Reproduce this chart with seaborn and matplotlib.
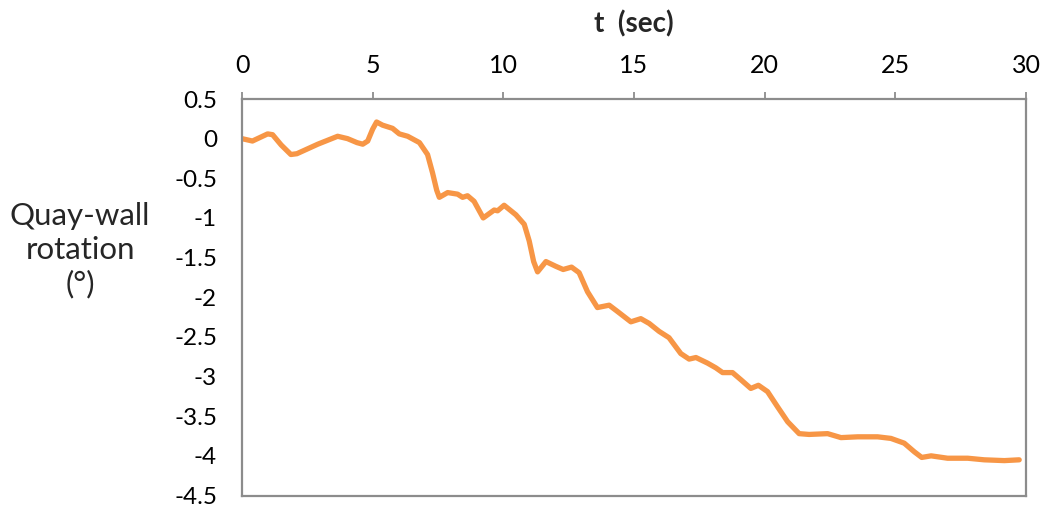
import matplotlib
matplotlib.use("Agg")
import matplotlib.pyplot as plt
import seaborn as sns
import pandas as pd

t_sec = [0.0, 0.4, 0.98, 1.17, 1.5, 1.87, 2.1, 2.9, 3.66, 4.04, 4.4, 4.62, 4.81, 5.0, 5.15,
         5.38, 5.76, 6.02, 6.34, 6.79, 7.1, 7.29, 7.45, 7.55, 7.87, 8.25, 8.44, 8.63, 8.88,
         9.23, 9.65, 9.78, 10.03, 10.48, 10.8, 10.99, 11.16, 11.31, 11.63, 12.01, 12.29,
         12.61, 12.9, 13.22, 13.6, 14.05, 14.37, 14.88, 15.26, 15.58, 15.96, 16.34, 16.79,
         17.11, 17.37, 17.81, 18.13, 18.39, 18.77, 19.09, 19.47, 19.76, 20.11, 20.49, 20.88,
         21.32, 21.7, 22.41, 22.92, 23.56, 24.32, 24.83, 25.34, 25.73, 26.01, 26.37, 27.0,
         27.77, 28.4, 29.17, 29.74]
rotation_deg = [0.0, -0.03, 0.06, 0.05, -0.08, -0.2, -0.19, -0.07, 0.03, 0.0, -0.05, -0.07,
                -0.03, 0.12, 0.21, 0.17, 0.13, 0.06, 0.03, -0.05, -0.2, -0.43, -0.65, -0.74,
                -0.68, -0.70, -0.74, -0.72, -0.79, -1.0, -0.90, -0.91, -0.84, -0.96, -1.08,
                -1.29, -1.55, -1.68, -1.55, -1.61, -1.65, -1.62, -1.69, -1.93, -2.13, -2.10,
                -2.18, -2.31, -2.27, -2.33, -2.43, -2.51, -2.71, -2.78, -2.76, -2.83, -2.89,
                -2.95, -2.95, -3.04, -3.15, -3.11, -3.19, -3.38, -3.57, -3.72, -3.73, -3.72,
                -3.77, -3.76, -3.76, -3.78, -3.84, -3.95, -4.02, -4.0, -4.03, -4.03, -4.05,
                -4.06, -4.05]

x_ticks = [0, 5, 10, 15, 20, 25, 30]
y_ticks = [0.5, 0, -0.5, -1, -1.5, -2, -2.5, -3, -3.5, -4, -4.5]
y_tick_labels = ["0.5", "0", "-0.5", "-1", "-1.5", "-2", "-2.5", "-3", "-3.5", "-4", "-4.5"]

sns.set_style("white")
plt.rcParams['font.family'] = ['Lato', 'DejaVu Sans']

df = pd.DataFrame({"t": t_sec, "rot": rotation_deg})

fig = plt.figure(figsize=(10.47, 5.12), dpi=100)
ax = fig.add_axes([242 / 1047, 1 - 495.5 / 512, (1026 - 242) / 1047, (495.5 - 99) / 512])

sns.lineplot(data=df, x="t", y="rot", ax=ax, color="#F79646", linewidth=3.8, sort=False,
             solid_joinstyle="round", solid_capstyle="round")

ax.set_xlim(0, 30)
ax.set_ylim(-4.5, 0.5)
ax.set_xticks(x_ticks)
ax.set_xticklabels([str(v) for v in x_ticks])
ax.set_yticks(y_ticks)
ax.set_yticklabels(y_tick_labels)

ax.xaxis.tick_top()
ax.xaxis.set_label_position("top")
ax.tick_params(axis="x", direction="out", length=5, width=1.3, color="#8c8c8c",
               labelsize=18, pad=11, labelcolor="black")
ax.tick_params(axis="y", direction="out", length=6, width=1.3, color="#8c8c8c",
               labelsize=17.5, pad=12, labelcolor="black")

for s in ax.spines.values():
    s.set_visible(True)
    s.set_color("#8c8c8c")
    s.set_linewidth(1.6)

ax.set_xlabel("t  (sec)", fontsize=20, fontweight="bold", labelpad=15)
ax.set_ylabel("")
fig.text(80 / 1047, 1 - 250 / 512, "Quay-wall\nrotation\n(°)", ha="center", va="center",
         fontsize=22.5, linespacing=1.25)

fig.savefig("out.png", dpi=100)
